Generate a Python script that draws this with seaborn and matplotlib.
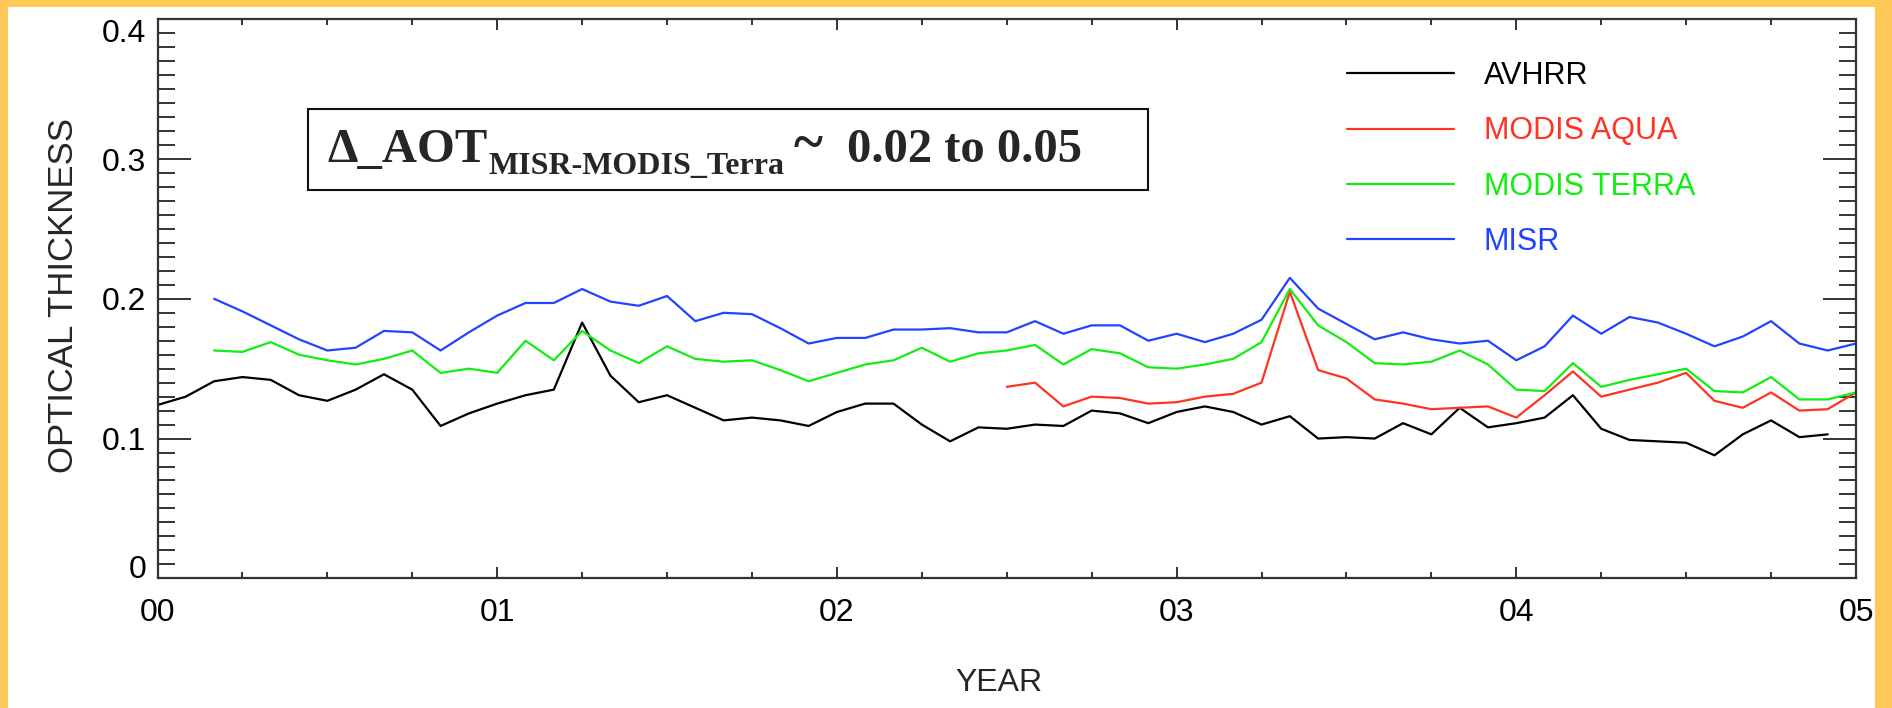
import matplotlib
matplotlib.use("Agg")
import matplotlib.pyplot as plt
from matplotlib.lines import Line2D
from matplotlib.patches import Rectangle
from matplotlib.ticker import FixedLocator, MultipleLocator
import numpy as np
import pandas as pd
import seaborn as sns

sns.set_theme(style="white")
plt.rcParams["font.family"] = ["Liberation Sans", "DejaVu Sans"]

# Monthly mean aerosol optical thickness, month 0 = Jan 2000
START_YEAR = 2000

avhrr_start = 0
avhrr = [0.124, 0.130, 0.141, 0.144, 0.142, 0.131, 0.127, 0.135, 0.146, 0.135,
         0.109, 0.118, 0.125, 0.131, 0.135, 0.183, 0.145, 0.126, 0.131, 0.122,
         0.113, 0.115, 0.113, 0.109, 0.119, 0.125, 0.125, 0.110, 0.098, 0.108,
         0.107, 0.110, 0.109, 0.120, 0.118, 0.111, 0.119, 0.123, 0.119, 0.110,
         0.116, 0.100, 0.101, 0.100, 0.111, 0.103, 0.122, 0.108, 0.111, 0.115,
         0.131, 0.107, 0.099, 0.098, 0.097, 0.088, 0.103, 0.113, 0.101, 0.103]

aqua_start = 30
modis_aqua = [0.137, 0.140, 0.123, 0.130, 0.129, 0.125, 0.126, 0.130, 0.132, 0.140,
              0.205, 0.149, 0.143, 0.128, 0.125, 0.121, 0.122, 0.123, 0.115, 0.131,
              0.148, 0.130, 0.135, 0.140, 0.147, 0.127, 0.122, 0.133, 0.120, 0.121,
              0.133]

terra_start = 2
modis_terra = [0.163, 0.162, 0.169, 0.160, 0.156, 0.153, 0.157, 0.163, 0.147, 0.150,
               0.147, 0.170, 0.156, 0.177, 0.163, 0.154, 0.166, 0.157, 0.155, 0.156,
               0.149, 0.141, 0.147, 0.153, 0.156, 0.165, 0.155, 0.161, 0.163, 0.167,
               0.153, 0.164, 0.161, 0.151, 0.150, 0.153, 0.157, 0.169, 0.207, 0.181,
               0.169, 0.154, 0.153, 0.155, 0.163, 0.153, 0.135, 0.134, 0.154, 0.137,
               0.142, 0.146, 0.150, 0.134, 0.133, 0.144, 0.128, 0.128, 0.133]

misr_start = 2
misr = [0.200, 0.191, 0.181, 0.171, 0.163, 0.165, 0.177, 0.176, 0.163, 0.176,
        0.188, 0.197, 0.197, 0.207, 0.198, 0.195, 0.202, 0.184, 0.190, 0.189,
        0.179, 0.168, 0.172, 0.172, 0.178, 0.178, 0.179, 0.176, 0.176, 0.184,
        0.175, 0.181, 0.181, 0.170, 0.175, 0.169, 0.175, 0.185, 0.215, 0.193,
        0.182, 0.171, 0.176, 0.171, 0.168, 0.170, 0.156, 0.166, 0.188, 0.175,
        0.187, 0.183, 0.175, 0.166, 0.173, 0.184, 0.168, 0.163, 0.168]

sensors = ["AVHRR", "MODIS AQUA", "MODIS TERRA", "MISR"]
colors = ["#000000", "#FF3322", "#11EE11", "#2244FF"]

year_ticks = [2000, 2001, 2002, 2003, 2004, 2005]
year_labels = ["00", "01", "02", "03", "04", "05"]
aot_ticks = [0.0, 0.1, 0.2, 0.3, 0.4]
aot_labels = ["0", "0.1", "0.2", "0.3", "0.4"]

note_main = "\u0394_AOT"
note_sub = "MISR-MODIS_Terra"
note_tilde = "~"
note_range = "0.02 to 0.05"

# long-form table for seaborn
rows = []
for name, start, values in zip(sensors,
                               [avhrr_start, aqua_start, terra_start, misr_start],
                               [avhrr, modis_aqua, modis_terra, misr]):
    for k, v in enumerate(values):
        rows.append((name, START_YEAR + (start + k) / 12.0, v))
df = pd.DataFrame(rows, columns=["sensor", "year", "aot"])

W, H = 1892, 708
fig = plt.figure(figsize=(W / 100, H / 100), dpi=100)
fig.patch.set_facecolor("white")

# yellow frame on left, top and right
frame_col = "#FFC857"
for x0, y0, w, h in [(0, 0, 8, H), (0, H - 7, W, 7), (1875, 0, W - 1875, H)]:
    fig.add_artist(Rectangle((x0 / W, y0 / H), w / W, h / H,
                             transform=fig.transFigure, facecolor=frame_col,
                             edgecolor="none", zorder=0))

ax_l, ax_r, ax_t, ax_b = 157.5, 1856.0, 19.3, 578.3
ax = fig.add_axes([ax_l / W, (H - ax_b) / H, (ax_r - ax_l) / W, (ax_b - ax_t) / H])
ax.set_facecolor("white")

sns.lineplot(data=df, x="year", y="aot", hue="sensor", hue_order=sensors,
             palette=dict(zip(sensors, colors)), estimator=None, sort=True,
             linewidth=1.6, legend=False, ax=ax)

ax.set_xlim(2000, 2005)
ax.set_ylim(0, 0.4)

ax.xaxis.set_major_locator(FixedLocator(year_ticks))
ax.set_xticklabels(year_labels)
ax.xaxis.set_minor_locator(MultipleLocator(0.25))
ax.yaxis.set_major_locator(FixedLocator(aot_ticks))
ax.set_yticklabels(aot_labels)
ax.yaxis.set_minor_locator(MultipleLocator(0.01))

axis_col = "#333333"
for sp in ax.spines.values():
    sp.set_visible(True)
    sp.set_color(axis_col)
    sp.set_linewidth(1.6)

ax.tick_params(axis="both", which="both", direction="in", color=axis_col,
               width=1.4, bottom=True, top=True, left=True, right=True,
               labelcolor="black")
ax.tick_params(axis="y", which="major", length=23.8, labelsize=23, pad=8)
ax.tick_params(axis="y", which="minor", length=12.2)
ax.tick_params(axis="x", which="major", length=8, labelsize=23, pad=14)
ax.tick_params(axis="x", which="minor", length=4.3)

ylabs = ax.get_yticklabels()
ylabs[0].set_va("baseline")
ylabs[-1].set_va("top")

ax.set_xlabel("YEAR", fontsize=23)
ax.set_ylabel("OPTICAL THICKNESS", fontsize=25)
ax.xaxis.set_label_coords((999 - ax_l) / (ax_r - ax_l), (ax_b - 668) / (ax_b - ax_t))
ax.yaxis.set_label_coords((80 - ax_l) / (ax_r - ax_l), (ax_b - 295) / (ax_b - ax_t))

handles = [Line2D([], [], color=c, linewidth=1.6) for c in colors]
ax.legend(handles, sensors, loc="upper left",
          bbox_to_anchor=((1347 - ax_l) / (ax_r - ax_l), (ax_b - 61) / (ax_b - ax_t)),
          frameon=False, fontsize=22, handlelength=3.5, handletextpad=0.98,
          labelspacing=0.83, borderpad=0, borderaxespad=0, labelcolor="linecolor")

# boxed note
fig.add_artist(Rectangle((308 / W, (H - 190) / H), (1147.5 - 308) / W, (190 - 109.3) / H,
                         transform=fig.transFigure, facecolor="white",
                         edgecolor="#111111", linewidth=1.5, zorder=3))
serif = ["Liberation Serif", "DejaVu Serif"]
renderer = fig.canvas.get_renderer()
t1 = fig.text(327 / W, (H - 161.7) / H, note_main, fontsize=35, fontweight="bold",
              family=serif, va="baseline", ha="left", zorder=4)
x1 = t1.get_window_extent(renderer).x1
t2 = fig.text((x1 + 1) / W, (H - 174) / H, note_sub, fontsize=23, fontweight="bold",
              family=serif, va="baseline", ha="left", zorder=4)
x2 = t2.get_window_extent(renderer).x1
t3 = fig.text((x2 + 9) / W, (H - 160) / H, note_tilde, fontsize=40, fontweight="bold",
              family=serif, va="baseline", ha="left", zorder=4)
x3 = t3.get_window_extent(renderer).x1
fig.text((x3 + 25) / W, (H - 161.7) / H, note_range, fontsize=35, fontweight="bold",
         family=serif, va="baseline", ha="left", zorder=4)

fig.savefig("out.png", dpi=100, facecolor="white")
